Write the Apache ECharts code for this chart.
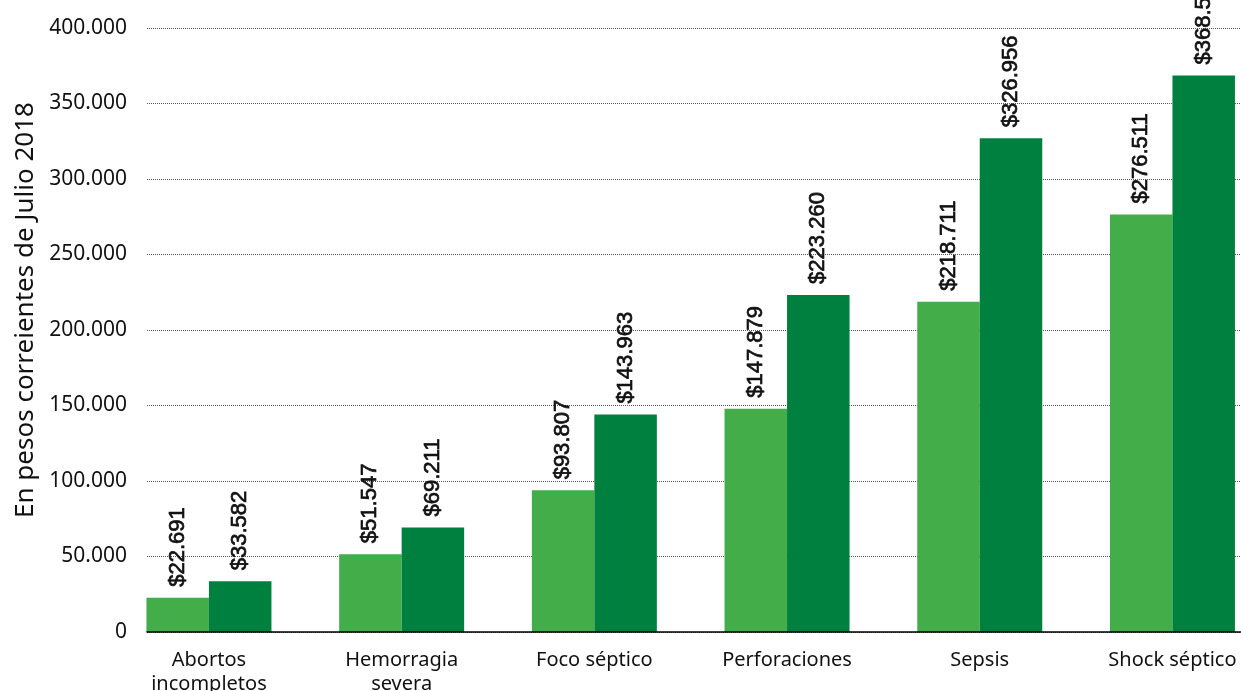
<!DOCTYPE html>
<html>
<head>
<meta charset="utf-8">
<script src="https://cdn.jsdelivr.net/npm/echarts@6/dist/echarts.min.js"></script>
<style>html,body{margin:0;padding:0;background:#fff}#c{width:1241px;height:691px}</style>
</head>
<body>
<div id="c"></div>
<script>
const categories = ['Abortos\nincompletos', 'Hemorragia\nsevera', 'Foco séptico', 'Perforaciones', 'Sepsis', 'Shock séptico'];
const serieA = [22691, 51547, 93807, 147879, 218711, 276511];
const serieB = [33582, 69211, 143963, 223260, 326956, 368500];
const yTicks = { min: 0, max: 400000, interval: 50000 };

function fmt(v) {
  return String(Math.round(v)).replace(/\B(?=(\d{3})+(?!\d))/g, '.');
}

const chart = echarts.init(document.getElementById('c'));
const labelCfg = {
  show: true, position: 'top', rotate: 90, align: 'left', verticalAlign: 'middle',
  distance: 11, fontFamily: 'Liberation Sans', fontSize: 22, color: '#111',
  textBorderColor: '#111', textBorderWidth: 0.7,
  formatter: p => '$' + fmt(p.value)
};
chart.setOption({
  animation: false,
  grid: [
    { left: 147, right: 0, top: 28, bottom: 59, outerBoundsMode: 'none' },
    { left: 112.6, width: 1156.2, top: 28, bottom: 59, outerBoundsMode: 'none' }
  ],
  xAxis: [
    { type: 'category', gridIndex: 0, data: categories, z: 10,
      axisLine: { show: true, lineStyle: { color: '#000', width: 1.5 } },
      axisTick: { show: false }, axisLabel: { show: false }, splitLine: { show: false } },
    { type: 'category', gridIndex: 1, data: categories,
      axisLine: { show: false }, axisTick: { show: false },
      axisLabel: { fontFamily: 'Noto Sans', fontSize: 20, color: '#111', margin: 16, lineHeight: 24, interval: 0 } }
  ],
  yAxis: [
    { type: 'value', gridIndex: 0, min: yTicks.min, max: yTicks.max, interval: yTicks.interval,
      name: 'En pesos correientes de Julio 2018', nameLocation: 'middle', nameGap: 103,
      nameTextStyle: { fontFamily: 'Noto Sans', fontSize: 26, color: '#111', padding: [0, 0, 0, 40] },
      axisLine: { show: false }, axisTick: { show: false },
      axisLabel: { fontFamily: 'Noto Sans', fontSize: 21, color: '#111', margin: 20, formatter: v => fmt(v) },
      splitLine: { show: true, lineStyle: { type: 'dotted', color: '#555', width: 1 } } },
    { type: 'value', gridIndex: 1, min: yTicks.min, max: yTicks.max, interval: yTicks.interval, show: false,
      splitLine: { show: false } }
  ],
  series: [
    { type: 'bar', xAxisIndex: 1, yAxisIndex: 1, data: serieA, barWidth: 62.5, barGap: '0%',
      itemStyle: { color: '#43AD4A' }, label: labelCfg },
    { type: 'bar', xAxisIndex: 1, yAxisIndex: 1, data: serieB, barWidth: 62.5, barGap: '0%',
      itemStyle: { color: '#00803E' }, label: labelCfg }
  ]
});
</script>
</body>
</html>
